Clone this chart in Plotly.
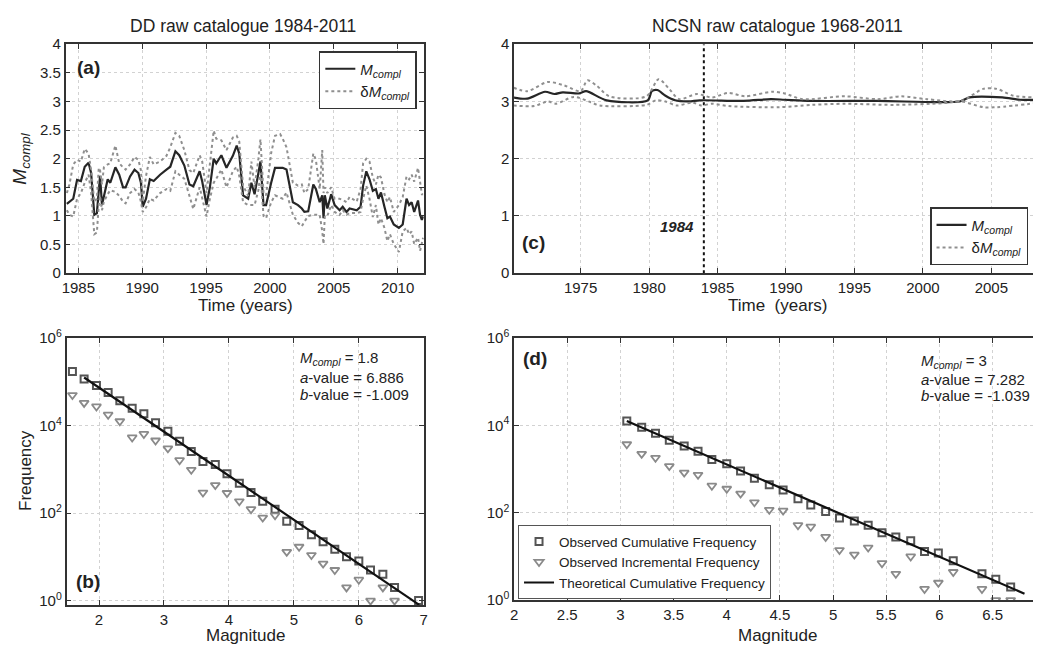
import plotly.graph_objects as go

# Page has default 8px body margin: figure sized so page is exactly 1045x652
OFF = 8
W, H = 1045 - 2 * OFF, 652 - 2 * OFF
FONT = "Liberation Sans, Arial, sans-serif"

# ---------------- Panel (a): DD catalogue, Mcompl vs time ----------------
years_a = [1984.1, 1984.3, 1984.6, 1984.9, 1985.2, 1985.5, 1985.8, 1986.0, 1986.25, 1986.45,
           1986.6, 1986.7, 1986.85, 1987.0, 1987.3, 1987.5, 1987.9, 1988.2, 1988.5, 1988.7,
           1989.05, 1989.4, 1989.7, 1989.9, 1990.04, 1990.3, 1990.6, 1990.9, 1991.4, 1991.9,
           1992.2, 1992.6, 1992.9, 1993.3, 1993.7, 1994.0, 1994.5, 1994.7, 1995.04, 1995.3,
           1995.6, 1995.8, 1996.2, 1996.6, 1997.1, 1997.4, 1997.6, 1997.9, 1998.3, 1998.55,
           1998.8, 1999.1, 1999.26, 1999.5, 1999.7, 2000.1, 2000.4, 2000.8, 2001.0, 2001.3,
           2001.55, 2001.8, 2002.2, 2002.5, 2002.7, 2003.0, 2003.4, 2003.6, 2003.9, 2004.1,
           2004.2, 2004.3, 2004.5, 2004.8, 2005.07, 2005.46, 2005.7, 2006.0, 2006.24, 2006.8,
           2007.1, 2007.3, 2007.55, 2007.8, 2008.06, 2008.3, 2008.5, 2008.7, 2008.97, 2009.2,
           2009.4, 2009.7, 2010.1, 2010.4, 2010.7, 2010.9, 2011.1, 2011.3, 2011.6, 2011.76,
           2011.9, 2012.0]
mcompl_a = [1.21, 1.25, 1.30, 1.63, 1.61, 1.86, 1.93, 1.75, 1.02, 1.05,
            1.53, 1.70, 1.19, 1.36, 1.64, 1.58, 1.85, 1.72, 1.50, 1.50,
            1.69, 1.81, 1.75, 1.58, 1.16, 1.30, 1.64, 1.61, 1.72, 1.81,
            1.86, 2.13, 2.06, 1.88, 1.55, 1.52, 1.78, 1.60, 1.19, 1.50,
            2.00, 1.92, 2.06, 1.84, 2.05, 2.23, 2.09, 1.36, 1.30, 1.58,
            1.38, 1.75, 1.95, 1.19, 1.19, 1.58, 1.84, 1.84, 1.84, 1.81,
            1.55, 1.24, 1.19, 1.13, 1.07, 1.08, 1.55, 1.47, 1.24, 1.36,
            0.96, 1.36, 1.13, 1.38, 1.19, 1.10, 1.16, 1.07, 1.13, 1.10,
            1.16, 1.53, 1.78, 1.64, 1.44, 1.47, 1.30, 1.41, 1.16, 0.96,
            0.99, 0.85, 0.79, 0.85, 1.30, 1.19, 1.24, 1.07, 1.27, 1.02,
            0.93, 0.99]
upper_a = [1.40, 1.55, 1.90, 1.98, 1.95, 2.17, 2.09, 1.80, 1.25, 1.30,
           1.84, 1.80, 1.55, 1.85, 1.90, 1.92, 2.23, 1.92, 1.85, 1.81,
           1.90, 2.03, 1.98, 1.80, 1.25, 1.70, 2.03, 1.90, 1.95, 2.05,
           2.20, 2.45, 2.40, 2.15, 1.80, 1.75, 2.06, 1.95, 1.40, 1.90,
           2.49, 2.35, 2.32, 2.15, 2.37, 2.40, 2.30, 1.53, 1.35, 1.95,
           1.50, 2.00, 2.34, 1.40, 1.36, 2.10, 2.40, 2.43, 2.35, 2.20,
           1.90, 1.58, 1.53, 1.55, 1.40, 1.47, 2.09, 1.98, 1.47, 2.15,
           1.40, 1.50, 1.40, 1.50, 1.30, 1.30, 1.28, 1.24, 1.33, 1.25,
           1.47, 1.92, 2.00, 1.95, 1.67, 1.55, 1.72, 1.67, 1.38, 1.24,
           1.33, 1.07, 1.19, 1.33, 1.69, 1.64, 1.72, 1.60, 1.84, 1.55,
           1.38, 1.38]
lower_a = [1.10, 1.02, 0.99, 1.30, 1.40, 1.58, 1.72, 1.40, 0.68, 0.71,
           1.20, 1.35, 1.10, 1.25, 1.38, 1.45, 1.42, 1.35, 1.25, 1.22,
           1.40, 1.47, 1.41, 1.25, 1.07, 1.15, 1.30, 1.27, 1.40, 1.47,
           1.44, 1.78, 1.72, 1.65, 1.35, 1.12, 1.50, 1.30, 0.99, 1.30,
           1.58, 1.65, 1.81, 1.50, 1.78, 1.86, 1.70, 1.24, 1.19, 1.19,
           1.19, 1.45, 1.75, 1.00, 0.96, 1.24, 1.36, 1.32, 1.30, 1.41,
           1.19, 1.02, 0.88, 0.82, 0.90, 1.00, 1.02, 1.02, 1.02, 0.73,
           0.51, 1.00, 1.00, 1.19, 1.07, 1.02, 1.10, 1.02, 1.05, 1.05,
           1.07, 1.30, 1.53, 1.30, 0.98, 1.19, 0.85, 0.96, 0.79, 0.56,
           0.68, 0.51, 0.37, 0.73, 0.79, 0.68, 0.73, 0.51, 0.62, 0.39,
           0.51, 0.62]

# ---------------- Panel (c): NCSN catalogue, Mcompl vs time ----------------
years_c = [1970.1, 1971.1, 1972.4, 1973.1, 1973.7, 1974.9, 1975.4, 1976.9, 1979.9, 1980.2,
           1980.6, 1981.2, 1981.9, 1982.9, 1983.7, 1986.9, 1988.9, 1989.9, 1991.8, 1996.7,
           2002.7, 2003.4, 2005.8, 2007.1, 2008.6]
mcompl_c = [3.07, 3.05, 3.17, 3.13, 3.16, 3.14, 3.18, 3.02, 3.02, 3.18,
            3.20, 3.10, 3.02, 3.00, 3.02, 3.01, 3.04, 3.03, 3.01, 3.01,
            3.00, 3.07, 3.07, 3.03, 3.03]
years_c_up = [1970.1, 1971.1, 1972.6, 1973.8, 1975.0, 1975.5, 1976.2, 1977.1, 1979.8, 1980.7,
              1981.5, 1982.2, 1983.5, 1984.6, 1985.8, 1987.0, 1989.0, 1989.9, 1991.2, 1994.3,
              1996.7, 1998.4, 2000.3, 2002.8, 2004.4, 2005.4, 2006.6, 2008.6]
upper_c = [3.24, 3.18, 3.34, 3.28, 3.18, 3.37, 3.27, 3.09, 3.09, 3.39,
           3.21, 3.04, 3.13, 3.07, 3.15, 3.09, 3.17, 3.14, 3.04, 3.09,
           3.04, 3.09, 3.04, 3.01, 3.22, 3.22, 3.10, 3.07]
years_c_lo = [1970.1, 1971.6, 1972.6, 1973.2, 1974.5, 1975.7, 1976.4, 1979.8, 1980.5, 1981.2,
              1982.0, 1983.2, 1983.8, 1984.6, 1985.8, 1989.5, 1991.9, 1994.3, 1997.9, 2001.5,
              2002.8, 2004.4, 2005.4, 2008.6]
lower_c = [2.93, 2.92, 3.00, 2.96, 3.08, 2.99, 2.93, 2.94, 3.02, 3.00,
           2.93, 2.98, 2.93, 2.96, 2.92, 2.90, 2.94, 2.96, 2.94, 2.97,
           3.00, 2.90, 2.90, 2.98]
year_1984 = 1984

# ---------------- Panel (b): DD frequency-magnitude ----------------
mag_b = [1.59, 1.77, 1.96, 2.14, 2.32, 2.51, 2.69, 2.87, 3.06, 3.24,
         3.42, 3.60, 3.79, 3.97, 4.16, 4.34, 4.52, 4.71, 4.89, 5.08,
         5.27, 5.45, 5.63, 5.81, 6.00, 6.18, 6.37, 6.55]
cum_b = [174000, 117000, 83200, 57500, 37200, 25100, 18600, 11700, 7410, 4370,
         2570, 1510, 1290, 794, 479, 295, 186, 123, 65, 52,
         32, 22, 15, 10, 8, 5, 4, 2]
mag_b_last = [6.92]
cum_b_last = [1]
inc_b = [50100, 33100, 27500, 17800, 12600, 5370, 6460, 4570, 3020, 1620,
         977, 295, 436, 288, 186, 123, 79, 89, 13, 17,
         11, 7, 5, 2, 3, 1, 2, 1]
theo_mag_b = [1.77, 6.93]
theo_freq_b = [126000, 0.8]

# ---------------- Panel (d): NCSN frequency-magnitude ----------------
mag_d = [3.06, 3.20, 3.33, 3.46, 3.60, 3.73, 3.86, 4.00, 4.13, 4.26,
         4.40, 4.53, 4.67, 4.79, 4.93, 5.06, 5.20, 5.33, 5.46, 5.59,
         5.73, 5.86, 5.99, 6.13, 6.40, 6.53, 6.67, 6.94]
cum_d = [12600, 9120, 6610, 4570, 3390, 2570, 1660, 1320, 912, 617,
         437, 331, 209, 151, 107, 76, 65, 52, 35, 28,
         23, 13, 12, 8, 4, 3, 2, 1]
inc_d = [3720, 2240, 1820, 1175, 832, 741, 417, 355, 275, 174,
         117, 112, 52, 48, 28, 14, 11, 16, 7, 4,
         10, 1.8, 2.5, 4.4, 1.8, 1, 1, None]
theo_mag_d = [3.06, 6.80]
theo_freq_d = [12600, 1.4]

# ---------------- styles ----------------
BLACK = "#262626"
GRAY = "#8f8f8f"
SQ = "#555555"
TRI = "#8a8a8a"

def fx(px):
    return (px - OFF) / W

def fy(py):
    return 1 - (py - OFF) / H

fig = go.Figure()

MC = "<i>M</i><sub><i>compl</i></sub>"
DMC = "\u03b4<i>M</i><sub><i>compl</i></sub>"

# (a)
fig.add_trace(go.Scatter(x=years_a, y=mcompl_a, mode="lines", name=MC,
                         line=dict(color=BLACK, width=2.2), xaxis="x", yaxis="y", legend="legend"))
fig.add_trace(go.Scatter(x=years_a, y=upper_a, mode="lines", name=DMC,
                         line=dict(color=GRAY, width=2, dash="dot"), xaxis="x", yaxis="y", legend="legend"))
fig.add_trace(go.Scatter(x=years_a, y=lower_a, mode="lines", name=DMC, showlegend=False,
                         line=dict(color=GRAY, width=2, dash="dot"), xaxis="x", yaxis="y"))

# (c)
fig.add_trace(go.Scatter(x=[year_1984, year_1984], y=[0, 4], mode="lines", showlegend=False,
                         line=dict(color="#111111", width=2, dash="dot"), xaxis="x3", yaxis="y3"))
fig.add_trace(go.Scatter(x=years_c, y=mcompl_c, mode="lines", name=MC, line_shape="spline",
                         line=dict(color=BLACK, width=2.2, smoothing=0.8), xaxis="x3", yaxis="y3", legend="legend2"))
fig.add_trace(go.Scatter(x=years_c_up, y=upper_c, mode="lines", name=DMC, line_shape="spline",
                         line=dict(color=GRAY, width=2, dash="dot", smoothing=0.8), xaxis="x3", yaxis="y3", legend="legend2"))
fig.add_trace(go.Scatter(x=years_c_lo, y=lower_c, mode="lines", showlegend=False, line_shape="spline",
                         line=dict(color=GRAY, width=2, dash="dot", smoothing=0.8), xaxis="x3", yaxis="y3"))

# (b)
sq_marker = dict(symbol="square-open", size=7, color=SQ, line=dict(width=2, color=SQ))
tri_marker = dict(symbol="triangle-down-open", size=8, color=TRI, line=dict(width=1.8, color=TRI))
fig.add_trace(go.Scatter(x=mag_b + mag_b_last, y=cum_b + cum_b_last, mode="markers", showlegend=False,
                         marker=sq_marker, xaxis="x2", yaxis="y2"))
fig.add_trace(go.Scatter(x=mag_b, y=inc_b, mode="markers", showlegend=False,
                         marker=tri_marker, xaxis="x2", yaxis="y2"))
fig.add_trace(go.Scatter(x=theo_mag_b, y=theo_freq_b, mode="lines", showlegend=False,
                         line=dict(color="#111111", width=2.2), xaxis="x2", yaxis="y2"))

# (d)
fig.add_trace(go.Scatter(x=mag_d, y=cum_d, mode="markers", name="Observed Cumulative Frequency",
                         marker=sq_marker, xaxis="x4", yaxis="y4", legend="legend3"))
fig.add_trace(go.Scatter(x=mag_d, y=inc_d, mode="markers", name="Observed Incremental Frequency",
                         marker=tri_marker, xaxis="x4", yaxis="y4", legend="legend3"))
fig.add_trace(go.Scatter(x=theo_mag_d, y=theo_freq_d, mode="lines", name="Theoretical Cumulative Frequency",
                         line=dict(color="#111111", width=2.2), xaxis="x4", yaxis="y4", legend="legend3"))

TICK = 15

def axis(**kw):
    base = dict(showline=True, linecolor="#333333", linewidth=1.5, mirror="ticks",
                ticks="inside", ticklen=5, tickcolor="#333333", tickwidth=1.2,
                showgrid=True, gridcolor="#d2d2d2", griddash="dot", gridwidth=1,
                zeroline=False, tickfont=dict(family=FONT, size=TICK, color="#222222"))
    base.update(kw)
    return base

log_vals = [1, 1e2, 1e4, 1e6]
log_text = ["10<sup>0</sup>", "10<sup>2</sup>", "10<sup>4</sup>", "10<sup>6</sup>"]

fig.update_layout(
    width=W, height=H, margin=dict(l=0, r=0, t=0, b=0),
    paper_bgcolor="white", plot_bgcolor="white",
    font=dict(family=FONT, size=15, color="#222222"),
    xaxis=axis(domain=[fx(62), fx(423)], range=[1984, 2012.05], anchor="y",
               tickvals=[1985, 1990, 1995, 2000, 2005, 2010], ticklabelstandoff=0),
    yaxis=axis(domain=[fy(270), fy(34)], range=[0, 4], anchor="x",
               tickvals=[0, 0.5, 1, 1.5, 2, 2.5, 3, 3.5, 4],
               ticktext=["0", "0.5", "1", "1.5", "2", "2.5", "3", "3.5", "4"]),
    xaxis2=axis(domain=[fx(63), fx(423)], range=[1.5, 7], anchor="y2",
                tickvals=[2, 3, 4, 5, 6, 7], ticklabelstandoff=0),
    yaxis2=axis(domain=[fy(612), fy(337)], type="log", range=[-0.1, 6], anchor="x2",
                tickvals=log_vals, ticktext=log_text),
    xaxis3=axis(domain=[fx(514), 1.0], range=[1970.14, 2008.04], anchor="y3",
                tickvals=[1975, 1980, 1985, 1990, 1995, 2000, 2005], ticklabelstandoff=0),
    yaxis3=axis(domain=[fy(270), fy(34)], range=[0, 4], anchor="x3", mirror=False,
                tickvals=[0, 1, 2, 3, 4]),
    xaxis4=axis(domain=[fx(514), 1.0], range=[2, 6.88], anchor="y4",
                tickvals=[2, 2.5, 3, 3.5, 4, 4.5, 5, 5.5, 6, 6.5],
                ticktext=["2", "2.5", "3", "3.5", "4", "4.5", "5", "5.5", "6", "6.5"],
                ticklabelstandoff=0),
    yaxis4=axis(domain=[fy(607), fy(337)], type="log", range=[0, 6], anchor="x4", mirror=False,
                tickvals=log_vals, ticktext=log_text),
    legend=dict(x=fx(416), xanchor="right", y=fy(41), yanchor="top",
                bordercolor="#333333", borderwidth=1.5, bgcolor="white",
                font=dict(family=FONT, size=15), tracegroupgap=0, itemwidth=30),
    legend2=dict(x=fx(1032), xanchor="right", y=fy(202), yanchor="top",
                 bordercolor="#333333", borderwidth=1.5, bgcolor="white",
                 font=dict(family=FONT, size=15), tracegroupgap=0, itemwidth=30),
    legend3=dict(x=fx(518), xanchor="left", y=fy(606), yanchor="bottom",
                 bordercolor="#555555", borderwidth=1, bgcolor="white",
                 font=dict(family=FONT, size=13.5), tracegroupgap=0, itemwidth=30),
)

ann = []
def text(x, y, s, size=15, xanchor="center", yanchor="middle", angle=0, color="#222222"):
    ann.append(dict(x=fx(x), y=fy(y), xref="paper", yref="paper", text=s, showarrow=False,
                    xanchor=xanchor, yanchor=yanchor, textangle=angle,
                    font=dict(family=FONT, size=size, color=color)))

text(241, 15, "DD raw catalogue 1984-2011", 17.5)
text(780, 15, "NCSN raw catalogue 1968-2011", 17.5)
text(243, 303, "Time (years)", 17)
text(780, 303, "Time  (years)", 17)
text(243, 643, "Magnitude", 17)
text(780, 643, "Magnitude", 17)
text(17, 152, MC, 19, angle=-90)
text(21, 473, "Frequency", 17, angle=-90)
text(85, 58, "<b>(a)</b>", 19)
text(85, 588, "<b>(b)</b>", 19)
text(534, 238, "<b>(c)</b>", 19)
text(535, 358, "<b>(d)</b>", 19)
text(697, 222, "<b><i>1984</i></b>", 15, xanchor="right")
text(296, 358, MC + " = 1.8", 15, xanchor="left")
text(296, 378, "<i>a</i>-value = 6.886", 15, xanchor="left")
text(296, 395, "<i>b</i>-value = -1.009", 15, xanchor="left")
text(922, 361, MC + " = 3", 15, xanchor="left")
text(922, 380, "<i>a</i>-value = 7.282", 15, xanchor="left")
text(922, 396, "<i>b</i>-value = -1.039", 15, xanchor="left")
fig.update_layout(annotations=ann)

fig.write_html("out.html", config={"displayModeBar": False})
